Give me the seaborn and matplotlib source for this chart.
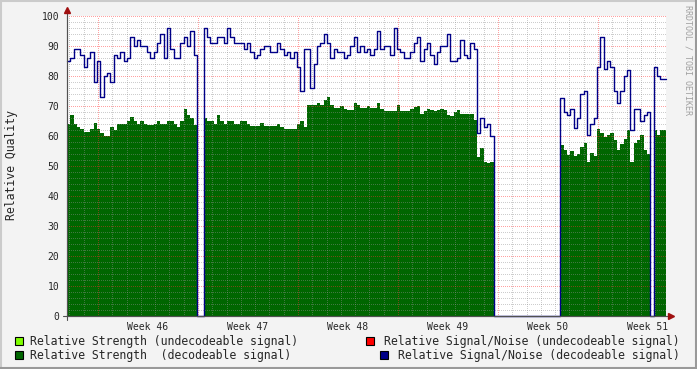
import numpy as np
import pandas as pd
import matplotlib
matplotlib.use("Agg")
import matplotlib.pyplot as plt
import seaborn as sns
from matplotlib.patches import Rectangle
from matplotlib.lines import Line2D

# ---------------- data ----------------
# samples every 5.6 h (0.2333 day), first sample 2.17 days before Monday of week 46
T0_DAYS = -2.17
STEP_DAYS = 0.23333
X_END_DAYS = 39.76

snr_decodeable = [
    85, 86, 89, 89, 87, 83, 86, 88, 78, 85, 73, 80, 81, 78, 87, 86, 88, 85, 86, 93,
    90, 92, 90, 90, 88, 86, 88, 91, 94, 86, 96,
    89, 86, 86, 91, 93, 90, 95, 87, 0, 0, 96, 93, 91, 91, 93, 93, 91, 96, 93, 91,
    91, 91, 89, 91, 88, 86, 87, 89, 90, 90,
    88, 88, 91, 89, 87, 88, 86, 88, 83, 75, 89, 89, 76, 84, 90, 91, 94, 91, 86, 89,
    88, 88, 86, 87, 90, 93, 88, 90, 88, 89,
    87, 89, 95, 89, 90, 90, 87, 96, 89, 88, 86, 86, 88, 91, 93, 85, 89, 91, 87, 84,
    88, 90, 90, 94, 85, 85, 86, 92, 87, 86,
    91, 89, 61, 66, 63, 64, 60, 0, 0, 0, 0, 0, 0, 0, 0, 0, 0, 0, 0, 0, 0, 0, 0, 0,
    0, 0, 0, 72.6, 68,
    67, 69, 62.6, 66, 74, 75, 60.5, 64, 66, 83, 93, 82.5, 85, 83, 75, 71, 75, 80, 82,
    62, 69, 69, 65, 67, 68, 0, 83, 80, 79,
]

strength_decodeable = [
    64, 67, 64, 63, 62.5, 61.4, 61.5, 62.5, 64.2, 62.5, 61, 60, 60, 63, 62, 64, 64, 64,
    65, 66.4, 65, 64, 65, 64, 63.7, 63.7, 64, 65, 64, 64, 65,
    65, 64, 63, 65, 69, 67, 66, 63.7, 0, 0, 66, 65, 65, 64, 67, 65, 64, 65, 65, 64,
    64, 65, 65, 64, 63.3, 63.3, 63.3, 64.5, 63.3, 63.3,
    63.3, 63.3, 64, 63, 62.2, 62.2, 62.2, 62.2, 64, 65, 63, 70.3, 70.3, 70.3, 71, 70.3,
    72, 73, 70.5, 69.2, 69.5, 70, 69, 68.7, 68.7, 71, 70.5, 69.5, 69.3, 70,
    69.5, 69.5, 71, 69, 68.3, 68.5, 68.2, 68.2, 70.5, 68.5, 68.5, 68.3, 69, 69.8, 70,
    67.5, 68.2, 69, 68.7, 68.4, 68.7, 69, 68.7, 67, 66.7, 68, 68.7, 67.5, 67.3, 67.3,
    67.5, 65.5, 53, 56, 51.5, 51, 51.4, 0, 0, 0, 0, 0, 0, 0, 0, 0, 0, 0, 0, 0, 0, 0,
    0, 0, 0, 0, 0, 57, 55.3,
    53.7, 55, 53.5, 54, 56.4, 57.6, 51.4, 54.2, 53.3, 62.5, 61, 59.6, 60.5, 61, 58.7,
    55.3, 57.5, 59, 62, 51.4, 57.6, 58.7, 60.3, 55.3, 54, 0, 62, 60.5, 62,
]

week_labels = ["Week 46", "Week 47", "Week 48", "Week 49", "Week 50", "Week 51"]
y_ticks = list(range(0, 101, 10))

legend_items = [
    ("Relative Strength (undecodeable signal)", "#7FFF00"),
    ("Relative Strength  (decodeable signal)", "#006600"),
    ("Relative Signal/Noise (undecodeable signal)", "#FF0000"),
    ("Relative Signal/Noise (decodeable signal)", "#000088"),
]

# ---------------- frame ----------------
n = len(snr_decodeable)
t = T0_DAYS + STEP_DAYS * np.arange(n)
t_ext = np.append(t, X_END_DAYS)
snr_ext = np.append(snr_decodeable, snr_decodeable[-1])
str_ext = np.append(strength_decodeable, strength_decodeable[-1])
df = pd.DataFrame({"t": t_ext, "snr": snr_ext, "strength": str_ext})

sns.set_theme(style="white")
plt.rcParams["font.family"] = ["DejaVu Sans Mono"]

W, H = 697, 369
fig = plt.figure(figsize=(W / 100, H / 100), dpi=100, facecolor="#F3F3F3")


def fx(x):
    return x / W


def fy(y):
    return 1 - y / H


ax = fig.add_axes([fx(67), fy(316), 599 / W, 300 / H])
ax.set_facecolor("white")

ax.fill_between(df["t"], 0, df["strength"], step="post", color="#006600",
                lw=0, zorder=1)
sns.lineplot(data=df, x="t", y="snr", drawstyle="steps-post", color="#000088",
             lw=1.0, ax=ax, estimator=None, sort=False, zorder=3, clip_on=False)

ax.set_xlim(T0_DAYS, X_END_DAYS)
ax.set_ylim(0, 100)
ax.set_xlabel("")
ax.set_ylabel("")

ax.set_xticks(np.arange(0, 36, 7))
ax.set_xticks(np.arange(-2, 40, 1), minor=True)
ax.set_yticks(y_ticks)
ax.set_yticks(np.arange(0, 101, 2), minor=True)
ax.set_axisbelow(False)
ax.grid(which="minor", color="#909090", alpha=0.45, ls=(0, (1, 2)), lw=0.72,
        antialiased=False)
ax.grid(which="major", color="#FF3030", alpha=0.45, ls=(0, (1, 2)), lw=0.72,
        antialiased=False)

ax.tick_params(axis="x", which="major", length=2.5, color="#D04040",
               labelbottom=False, direction="out", width=0.7)
ax.tick_params(axis="both", which="minor", length=0)
ax.tick_params(axis="y", which="major", length=2.5, color="#606060",
               labelsize=7, pad=3, direction="out", width=0.7)
ax.set_yticklabels([str(v) for v in y_ticks])

for s in ["top", "right"]:
    ax.spines[s].set_visible(False)
for s in ["left", "bottom"]:
    ax.spines[s].set_color("#505050")
    ax.spines[s].set_linewidth(0.8)

sec = ax.secondary_xaxis("bottom")
sec.set_xticks(np.arange(3.5, 39, 7), labels=week_labels)
sec.tick_params(length=0, pad=4.5, labelsize=7)
sec.spines["bottom"].set_visible(False)

# axis extensions and arrows
fig.add_artist(Line2D([fx(67), fx(67)], [fy(320), fy(10)], color="#505050", lw=0.8))
fig.add_artist(Line2D([fx(63), fx(670)], [fy(316), fy(316)], color="#505050", lw=0.8))
fig.add_artist(Line2D([fx(67)], [fy(10)], marker="^", ms=4, color="#A01010", lw=0))
fig.add_artist(Line2D([fx(671)], [fy(316)], marker=">", ms=4, color="#A01010", lw=0))

fig.text(fx(12), fy(165), "Relative Quality", rotation=90, ha="center",
         va="center", fontsize=8.3)
fig.text(fx(688), fy(60), "RRDTOOL / TOBI OETIKER", rotation=270, ha="center",
         va="center", fontsize=6, color="#A0A0A0")

# legend
rows = [(15, 341, 30, "left"), (15, 355, 30, "left"),
        (366, 341, 680, "right"), (380, 355, 680, "right")]
for (label, col), (bx, by, tx, ha) in zip(legend_items, rows):
    fig.add_artist(Rectangle((fx(bx), fy(by + 4)), 8 / W, 8 / H,
                             facecolor=col, edgecolor="black", lw=0.8))
    fig.text(fx(tx), fy(by), label, ha=ha, va="center", fontsize=8.3)

# 3D-ish border
fig.add_artist(Line2D([0, 1], [1 - 1 / H, 1 - 1 / H], color="#CBCBCB", lw=1.5))
fig.add_artist(Line2D([1 / W, 1 / W], [0, 1], color="#CBCBCB", lw=1.5))
fig.add_artist(Line2D([0, 1], [1 / H, 1 / H], color="#999999", lw=1.5))
fig.add_artist(Line2D([1 - 1 / W, 1 - 1 / W], [0, 1], color="#999999", lw=1.5))

fig.savefig("out.png", dpi=100, facecolor=fig.get_facecolor())
